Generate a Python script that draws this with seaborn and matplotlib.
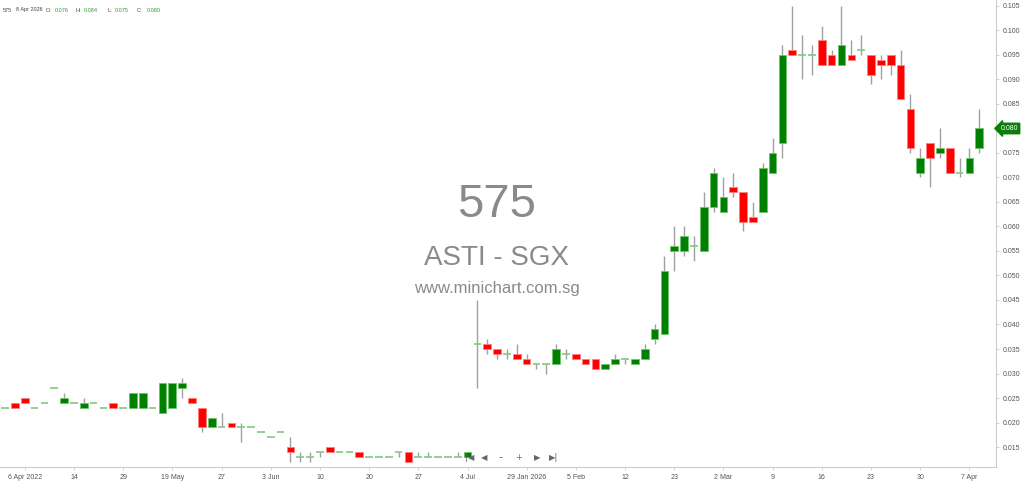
import matplotlib
matplotlib.use('Agg')
import matplotlib.pyplot as plt
import matplotlib.transforms as mtransforms
import seaborn as sns
import numpy as np
import pandas as pd

sns.set_theme(style='white')
plt.rcParams['font.family'] = ['Liberation Sans', 'DejaVu Sans']

# ── Data: daily OHLC, 6 Apr 2022 .. 4 Jul 2022 then Jan 2026 .. 8 Apr 2026 ──
opens = [0.023, 0.024, 0.025, 0.023, 0.024, 0.027, 0.024, 0.024, 0.023, 0.024,
         0.023, 0.024, 0.023, 0.023, 0.023, 0.023, 0.022, 0.023, 0.027, 0.025,
         0.023, 0.019, 0.019, 0.020, 0.019, 0.019, 0.018, 0.017, 0.018, 0.015,
         0.013, 0.013, 0.014, 0.015, 0.014, 0.014, 0.014, 0.013, 0.013, 0.013,
         0.014, 0.014, 0.013, 0.013, 0.013, 0.013, 0.013, 0.013, 0.036, 0.036,
         0.035, 0.034, 0.034, 0.033, 0.032, 0.032, 0.032, 0.034, 0.034, 0.033,
         0.033, 0.031, 0.032, 0.033, 0.032, 0.033, 0.037, 0.038, 0.055, 0.055,
         0.056, 0.055, 0.064, 0.063, 0.068, 0.067, 0.062, 0.063, 0.071, 0.077,
         0.096, 0.095, 0.095, 0.098, 0.095, 0.093, 0.095, 0.096, 0.095, 0.094,
         0.095, 0.093, 0.084, 0.071, 0.077, 0.075, 0.076, 0.071, 0.071, 0.076]
highs = [0.023, 0.024, 0.025, 0.023, 0.024, 0.027, 0.026, 0.024, 0.025, 0.024,
         0.023, 0.024, 0.023, 0.026, 0.026, 0.023, 0.028, 0.028, 0.029, 0.025,
         0.023, 0.021, 0.022, 0.020, 0.020, 0.019, 0.018, 0.017, 0.018, 0.017,
         0.014, 0.014, 0.014, 0.015, 0.014, 0.014, 0.014, 0.013, 0.013, 0.013,
         0.014, 0.014, 0.014, 0.014, 0.013, 0.013, 0.014, 0.014, 0.045, 0.037,
         0.035, 0.035, 0.036, 0.034, 0.032, 0.032, 0.036, 0.035, 0.034, 0.033,
         0.033, 0.032, 0.034, 0.033, 0.033, 0.036, 0.040, 0.054, 0.060, 0.060,
         0.058, 0.067, 0.072, 0.070, 0.071, 0.067, 0.065, 0.073, 0.078, 0.097,
         0.105, 0.099, 0.097, 0.101, 0.096, 0.105, 0.098, 0.099, 0.095, 0.095,
         0.095, 0.096, 0.087, 0.076, 0.077, 0.080, 0.076, 0.074, 0.076, 0.084]
lows = [0.023, 0.023, 0.024, 0.023, 0.024, 0.027, 0.024, 0.024, 0.023, 0.024,
        0.023, 0.023, 0.023, 0.023, 0.023, 0.023, 0.022, 0.023, 0.025, 0.024,
        0.018, 0.019, 0.019, 0.019, 0.016, 0.019, 0.018, 0.017, 0.018, 0.012,
        0.012, 0.012, 0.013, 0.014, 0.014, 0.014, 0.013, 0.013, 0.013, 0.013,
        0.013, 0.012, 0.013, 0.013, 0.013, 0.013, 0.013, 0.013, 0.027, 0.034,
        0.033, 0.033, 0.033, 0.032, 0.031, 0.030, 0.032, 0.033, 0.033, 0.032,
        0.031, 0.031, 0.032, 0.032, 0.032, 0.033, 0.036, 0.038, 0.051, 0.054,
        0.053, 0.055, 0.063, 0.063, 0.066, 0.059, 0.061, 0.063, 0.071, 0.074,
        0.095, 0.090, 0.091, 0.093, 0.093, 0.093, 0.094, 0.095, 0.089, 0.090,
        0.091, 0.086, 0.075, 0.070, 0.068, 0.074, 0.071, 0.070, 0.071, 0.075]
closes = [0.023, 0.023, 0.024, 0.023, 0.024, 0.027, 0.025, 0.024, 0.024, 0.024,
          0.023, 0.023, 0.023, 0.026, 0.026, 0.023, 0.028, 0.028, 0.028, 0.024,
          0.019, 0.021, 0.019, 0.019, 0.019, 0.019, 0.018, 0.017, 0.018, 0.014,
          0.013, 0.013, 0.014, 0.014, 0.014, 0.014, 0.013, 0.013, 0.013, 0.013,
          0.014, 0.012, 0.013, 0.013, 0.013, 0.013, 0.013, 0.014, 0.036, 0.035,
          0.034, 0.034, 0.033, 0.032, 0.032, 0.032, 0.035, 0.034, 0.033, 0.032,
          0.031, 0.032, 0.033, 0.033, 0.033, 0.035, 0.039, 0.051, 0.056, 0.058,
          0.056, 0.064, 0.071, 0.066, 0.067, 0.061, 0.061, 0.072, 0.075, 0.095,
          0.095, 0.095, 0.095, 0.093, 0.093, 0.097, 0.094, 0.096, 0.091, 0.093,
          0.093, 0.086, 0.076, 0.074, 0.074, 0.076, 0.071, 0.071, 0.074, 0.080]

date_tick_pos = [2, 7, 12, 17, 22, 27, 32, 37, 42, 47,
                 53, 58, 63, 68, 73, 78, 83, 88, 93, 98]
date_tick_labels = ['6 Apr 2022', '14', '29', '19 May', '27', '3 Jun', '10', '20', '27', '4 Jul',
                    '29 Jan 2026', '5 Feb', '12', '23', '2 Mar', '9', '16', '23', '30', '7 Apr']
price_ticks = [0.015, 0.020, 0.025, 0.030, 0.035, 0.040, 0.045, 0.050, 0.055,
               0.060, 0.065, 0.070, 0.075, 0.080, 0.085, 0.090, 0.095, 0.100, 0.105]
last_price = 0.080

df = pd.DataFrame({'open': opens, 'high': highs, 'low': lows, 'close': closes})
df['idx'] = np.arange(len(df))

UP, DOWN, DOJI, WICK = '#008000', '#ff0000', '#80c880', '#a0a0a0'
W = 0.78

fig = plt.figure(figsize=(10.24, 4.84), dpi=100)
ax = fig.add_axes([0, 17 / 484, 996 / 1024, 467 / 484])

# wicks
ax.vlines(df['idx'], df['low'], df['high'], color=WICK, lw=1, zorder=1)

up = df[df['close'] > df['open']]
dn = df[df['close'] < df['open']]
dj = df[df['close'] == df['open']]
ax.bar(up['idx'], up['close'] - up['open'], bottom=up['open'], width=W,
       color=UP, edgecolor='#6cc46c', linewidth=0.6, zorder=2)
ax.bar(dn['idx'], dn['open'] - dn['close'], bottom=dn['close'], width=W,
       color=DOWN, edgecolor='#ff8080', linewidth=0.6, zorder=2)
ax.hlines(dj['close'], dj['idx'] - W / 2, dj['idx'] + W / 2, color=DOJI, lw=1.2, zorder=2)

ax.set_xlim(-0.51, 100.7)
ax.set_ylim(0.01092, 0.10622)

ax.yaxis.tick_right()
ax.set_yticks(price_ticks)
ax.set_yticklabels(['' if abs(t - last_price) < 1e-9 else f'{t:.3f}' for t in price_ticks])
ax.set_xticks(date_tick_pos)
ax.set_xticklabels(date_tick_labels)
ax.tick_params(axis='both', labelsize=5, colors='#c8c8c8', labelcolor='#555555',
               length=2.5, width=0.6, pad=2.5)
ax.tick_params(axis='y', right=True, left=False)
ax.tick_params(axis='x', bottom=True)
for side in ['left', 'top']:
    ax.spines[side].set_visible(False)
for side in ['right', 'bottom']:
    ax.spines[side].set_color('#cccccc')
    ax.spines[side].set_linewidth(0.8)

# current price tag
trans = mtransforms.blended_transform_factory(ax.transAxes, ax.transData)
ax.text(1.0045, last_price, f'{last_price:.3f}', transform=trans, fontsize=5,
        color='white', va='center', ha='left', clip_on=False, zorder=5,
        bbox=dict(boxstyle='larrow,pad=0.25', fc='#0b7d0b', ec='#0b7d0b'))

# watermark
wm = '#8a8a8a'
fig.text(497 / 1024, 1 - 205 / 484, '575', fontsize=34, color=wm, ha='center', va='center')
fig.text(497 / 1024, 1 - 258 / 484, 'ASTI - SGX', fontsize=20, color=wm, ha='center', va='center')
fig.text(497 / 1024, 1 - 289 / 484, 'www.minichart.com.sg', fontsize=12, color=wm,
         ha='center', va='center')

# header
hdr = [(3, '575', '#444444'), (16, '8 Apr 2026', '#444444'),
       (46, 'O:', '#444444'), (55, f'{opens[-1]:.3f}', '#2ca02c'),
       (75, 'H:', '#444444'), (84, f'{highs[-1]:.3f}', '#2ca02c'),
       (107, 'L:', '#444444'), (115, f'{lows[-1]:.3f}', '#2ca02c'),
       (137, 'C:', '#444444'), (147, f'{closes[-1]:.3f}', '#2ca02c')]
for x, s, c in hdr:
    fig.text(x / 1024, 1 - 10 / 484, s, fontsize=4, color=c, ha='left', va='center')

# navigation controls overlay
nav = [(470, '|◀'), (484, '◀'), (501, '–'), (519, '+'), (537, '▶'), (554, '▶|')]
for x, s in nav:
    fig.text(x / 1024, 1 - 458 / 484, s, fontsize=6, color='#666666', ha='center', va='center',
             family=['DejaVu Sans'])

fig.savefig('out.png', dpi=100)
